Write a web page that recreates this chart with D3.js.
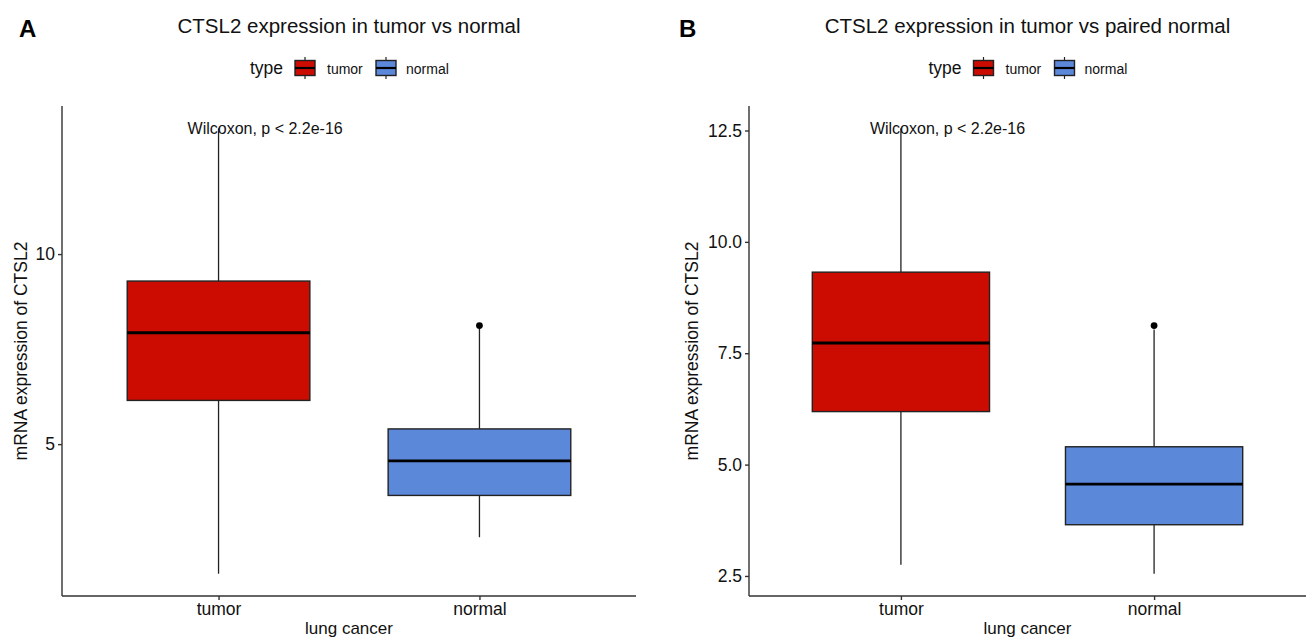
<!doctype html>
<html lang="en">
<head>
<meta charset="UTF-8">
<title>CTSL2 expression</title>
<style>
  body { margin: 0; background: #fff; }
  svg { font-family: "Liberation Sans", Arial, sans-serif; }
  .axis path, .axis line { stroke: #333; stroke-width: 1.4px; }
  .axis text { fill: #111; font-size: 17.5px; }
</style>
</head>
<body>
<svg width="1306" height="639"></svg>
<script src="https://cdn.jsdelivr.net/npm/d3@7"></script>
<script>
// groups and colours
var categories = ['tumor', 'normal'];
var colors = ['#cc0c00', '#5c88da'];

// box stats per group: [lower whisker, q1, median, q3, upper whisker]
var statsA = [[1.59, 6.15, 7.93, 9.29, 13.31], [2.55, 3.65, 4.56, 5.40, 8.03]];
var outliersA = [[], [8.12]];
var statsB = [[2.75, 6.19, 7.73, 9.32, 12.55], [2.55, 3.65, 4.56, 5.40, 8.03]];
var outliersB = [[], [8.12]];

var ticksA = [5, 10];
var ticksB = [2.5, 5, 7.5, 10, 12.5];

var svg = d3.select('svg');

function drawPanel(opt) {
    var top = 106, bottom = 596;
    var allVals = [];
    opt.stats.forEach(function(s, i) {
        allVals = allVals.concat(s, opt.outliers[i]);
    });
    var lo = d3.min(allVals), hi = d3.max(allVals), pad = (hi - lo) * 0.05;

    var y = d3.scaleLinear().domain([lo - pad, hi + pad]).range([bottom, top]);
    // discrete axis with ggplot-like 0.6 expansion
    var x = d3.scalePoint().domain(categories).range([opt.left, opt.right]).padding(0.6);
    var step = x.step();
    var boxW = step * 0.7;

    var g = svg.append('g');

    // title + letter
    var cx = (opt.left + opt.right) / 2;
    g.append('text').attr('x', opt.letterX).attr('y', 37)
        .attr('font-size', 24).attr('font-weight', 'bold').attr('fill', '#000')
        .text(opt.letter);
    g.append('text').attr('x', cx).attr('y', 33).attr('text-anchor', 'middle')
        .attr('font-size', 20.5).attr('fill', '#111').text(opt.title);

    // legend
    var lg = g.append('g');
    lg.append('text').attr('x', cx - 99).attr('y', 74).attr('font-size', 17.5)
        .attr('fill', '#111').text('type');
    var keyX = [cx - 55, cx + 26], labX = [cx - 22, cx + 57];
    categories.forEach(function(c, i) {
        var kx = keyX[i];
        lg.append('line').attr('x1', kx + 11).attr('x2', kx + 11).attr('y1', 57).attr('y2', 79)
            .attr('stroke', '#222').attr('stroke-width', 1.2);
        lg.append('rect').attr('x', kx + 1).attr('y', 60.5).attr('width', 20).attr('height', 15)
            .attr('fill', colors[i]).attr('stroke', '#222').attr('stroke-width', 1.4);
        lg.append('line').attr('x1', kx + 1).attr('x2', kx + 21).attr('y1', 68).attr('y2', 68)
            .attr('stroke', '#000').attr('stroke-width', 2.2);
        lg.append('text').attr('x', labX[i]).attr('y', 73.5).attr('font-size', 14)
            .attr('fill', '#111').text(c);
    });

    // axes
    g.append('g').attr('class', 'axis')
        .attr('transform', 'translate(' + opt.left + ',0)')
        .call(d3.axisLeft(y).tickValues(opt.ticks).tickSize(4).tickPadding(3)
            .tickFormat(opt.fmt).tickSizeOuter(0))
        .select('.domain').attr('d', 'M0,' + top + 'V' + bottom);
    g.append('g').attr('class', 'axis')
        .attr('transform', 'translate(0,' + bottom + ')')
        .call(d3.axisBottom(x).tickSize(4).tickPadding(3).tickSizeOuter(0))
        .select('.domain').attr('d', 'M' + opt.left + ',0H' + opt.right);

    // axis titles
    g.append('text').attr('transform', 'translate(' + opt.yTitleX + ',' + ((top + bottom) / 2) + ') rotate(-90)')
        .attr('text-anchor', 'middle').attr('font-size', 17.5).attr('fill', '#111')
        .text('mRNA expression of CTSL2');
    g.append('text').attr('x', (x('tumor') + x('normal')) / 2).attr('y', 634)
        .attr('text-anchor', 'middle').attr('font-size', 17).attr('fill', '#111')
        .text('lung cancer');

    // boxes
    categories.forEach(function(c, i) {
        var s = opt.stats[i], xc = x(c);
        g.append('line').attr('x1', xc).attr('x2', xc).attr('y1', y(s[0])).attr('y2', y(s[1]))
            .attr('stroke', '#222').attr('stroke-width', 1.3);
        g.append('line').attr('x1', xc).attr('x2', xc).attr('y1', y(s[3])).attr('y2', y(s[4]))
            .attr('stroke', '#222').attr('stroke-width', 1.3);
        g.append('rect').attr('x', xc - boxW / 2).attr('width', boxW)
            .attr('y', y(s[3])).attr('height', y(s[1]) - y(s[3]))
            .attr('fill', colors[i]).attr('stroke', '#222').attr('stroke-width', 1.4);
        g.append('line').attr('x1', xc - boxW / 2).attr('x2', xc + boxW / 2)
            .attr('y1', y(s[2])).attr('y2', y(s[2]))
            .attr('stroke', '#000').attr('stroke-width', 2.8);
        opt.outliers[i].forEach(function(v) {
            g.append('circle').attr('cx', xc).attr('cy', y(v)).attr('r', 3.4).attr('fill', '#000');
        });
    });

    // test label
    g.append('text').attr('x', x('tumor') - 31).attr('y', 134).attr('font-size', 16)
        .attr('fill', '#111').text('Wilcoxon, p < 2.2e-16');
}

drawPanel({
    letter: 'A', letterX: 19, title: 'CTSL2 expression in tumor vs normal',
    left: 62, right: 636, yTitleX: 27,
    stats: statsA, outliers: outliersA, ticks: ticksA, fmt: d3.format('d')
});
drawPanel({
    letter: 'B', letterX: 679, title: 'CTSL2 expression in tumor vs paired normal',
    left: 749, right: 1306, yTitleX: 698,
    stats: statsB, outliers: outliersB, ticks: ticksB, fmt: d3.format('.1f')
});
</script>
</body>
</html>
